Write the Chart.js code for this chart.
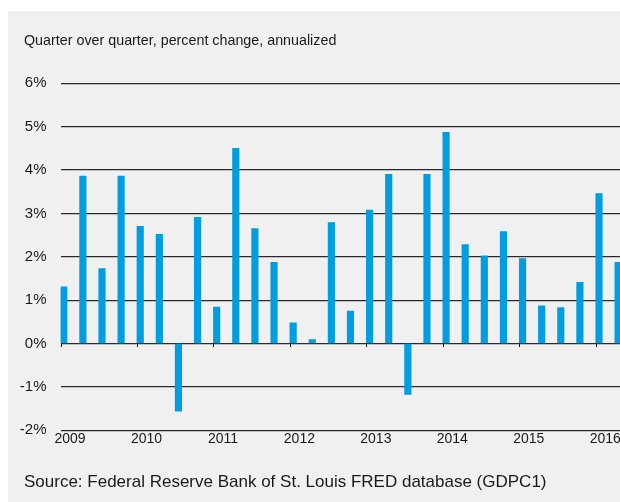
<!DOCTYPE html>
<html>
<head>
<meta charset="utf-8">
<script src="https://cdn.jsdelivr.net/npm/chart.js@4.4.1/dist/chart.umd.min.js"></script>
<style>
  html, body { margin: 0; padding: 0; background: #ffffff; }
  #panel { position: absolute; left: 8px; top: 11px; width: 612px; height: 491px; background: #f0f0f0; overflow: hidden; }
  #chartBox { position: absolute; left: 0; top: 0; width: 612px; height: 491px; }
  .txt { position: absolute; font-family: "Liberation Sans", Arial, sans-serif; color: #1a1a1a; white-space: nowrap; }
  #title { left: 16px; top: 21px; font-size: 14.3px; }
  #source { left: 16px; top: 461px; font-size: 17px; }
</style>
</head>
<body>
<div id="panel">
  <div id="chartBox"><canvas id="c" width="612" height="491"></canvas></div>
  <div id="title" class="txt">Quarter over quarter, percent change, annualized</div>
  <div id="source" class="txt">Source: Federal Reserve Bank of St. Louis FRED database (GDPC1)</div>
</div>
<script>
// ---- data ----
const years = [2009, 2010, 2011, 2012, 2013, 2014, 2015, 2016];
const quarters = [
  "2009 Q1","2009 Q2","2009 Q3","2009 Q4",
  "2010 Q1","2010 Q2","2010 Q3","2010 Q4",
  "2011 Q1","2011 Q2","2011 Q3","2011 Q4",
  "2012 Q1","2012 Q2","2012 Q3","2012 Q4",
  "2013 Q1","2013 Q2","2013 Q3","2013 Q4",
  "2014 Q1","2014 Q2","2014 Q3","2014 Q4",
  "2015 Q1","2015 Q2","2015 Q3","2015 Q4",
  "2016 Q1","2016 Q2"
];
const gdpGrowth = [
  1.31, 3.86, 1.73, 3.86,
  2.70, 2.52, -1.56, 2.91,
  0.84, 4.50, 2.65, 1.87,
  0.48, 0.09, 2.79, 0.75,
  3.08, 3.90, -1.17, 3.90,
  4.87, 2.28, 2.02, 2.58,
  1.96, 0.87, 0.83, 1.41,
  3.46, 1.87
];
const yTicks = [-2, -1, 0, 1, 2, 3, 4, 5, 6];

// ---- build chart ----
function quarterToYear(label) {
  const parts = label.split(" Q");
  return Number(parts[0]) + (Number(parts[1]) - 1) / 4;
}
const points = quarters.map((q, i) => ({ x: quarterToYear(q), y: gdpGrowth[i] }));

const xMin = years[0];
const xMax = years[0] + 7.317;
const BAR_W = 6.5;
const halfBarYears = (BAR_W / 2) / ((612 - 52.5) / (xMax - xMin));

const yearTickMarks = {
  id: 'yearTickMarks',
  afterDatasetsDraw(chart) {
    const ctx = chart.ctx;
    const xs = chart.scales.x, ys = chart.scales.y;
    const y0 = ys.getPixelForValue(0);
    ctx.save();
    ctx.strokeStyle = '#1a1a1a';
    ctx.lineWidth = 1;
    years.forEach(yr => {
      const px = Math.round(xs.getPixelForValue(yr)) + 0.5;
      ctx.beginPath();
      ctx.moveTo(px, y0);
      ctx.lineTo(px, y0 + 3.5);
      ctx.stroke();
    });
    ctx.restore();
  }
};

new Chart(document.getElementById('c'), {
  type: 'bar',
  data: {
    datasets: [{
      label: 'Real GDP growth',
      data: points,
      xAxisID: 'xb',
      yAxisID: 'y',
      backgroundColor: '#009ee0',
      borderWidth: 0,
      barThickness: BAR_W
    }]
  },
  options: {
    responsive: false,
    animation: false,
    devicePixelRatio: 1,
    layout: { padding: { top: 72.3, left: 0, right: 0, bottom: 0 } },
    plugins: { legend: { display: false }, tooltip: { enabled: false }, title: { display: false } },
    scales: {
      xb: {
        type: 'linear',
        display: false,
        offset: false,
        grid: { offset: false },
        min: xMin - halfBarYears,
        max: xMax - halfBarYears
      },
      x: {
        type: 'linear',
        position: 'bottom',
        offset: false,
        min: xMin,
        max: xMax,
        afterBuildTicks(scale) { scale.ticks = years.map(v => ({ value: v })); },
        afterFit(scale) { scale.height = 71.7; scale.paddingLeft = 0; scale.paddingRight = 0; },
        grid: { display: false, drawTicks: false, offset: false },
        border: { display: false },
        ticks: {
          autoSkip: false,
          maxRotation: 0,
          padding: 0,
          labelOffset: 9.5,
          color: '#1a1a1a',
          font: { family: '"Liberation Sans", Arial, sans-serif', size: 14 },
          callback: v => String(v)
        }
      },
      y: {
        type: 'linear',
        min: -2,
        max: 6,
        afterBuildTicks(scale) { scale.ticks = yTicks.map(v => ({ value: v })); },
        afterFit(scale) { scale.width = 52.5; scale.paddingTop = 0; scale.paddingBottom = 0; },
        grid: { color: '#2a2a2a', lineWidth: 1.2, drawTicks: false },
        border: { display: false },
        ticks: {
          padding: 14,
          color: '#1a1a1a',
          font: { family: '"Liberation Sans", Arial, sans-serif', size: 15 },
          callback: v => v + '%'
        }
      }
    }
  },
  plugins: [yearTickMarks]
});
</script>
</body>
</html>
